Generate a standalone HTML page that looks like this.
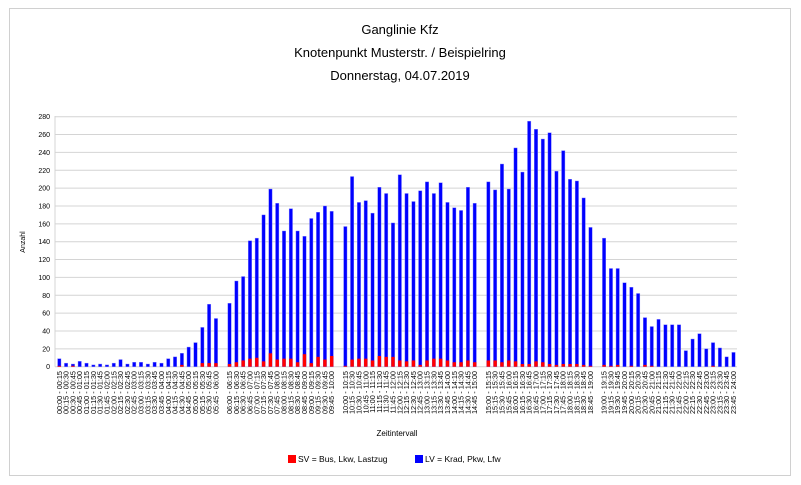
<!DOCTYPE html>
<html><head><meta charset="utf-8"><style>
body{margin:0;background:#fff;}
svg{display:block;font-family:"Liberation Sans",Arial,sans-serif;}
</style></head><body>
<svg id="s" width="801" height="485" xmlns="http://www.w3.org/2000/svg">
<rect x="9.5" y="8.5" width="781" height="467" fill="#fff" stroke="#d0d0d0"/>
<text x="400" y="34" font-size="13" text-anchor="middle">Ganglinie Kfz</text>
<text x="400" y="57" font-size="13" text-anchor="middle">Knotenpunkt Musterstr. / Beispielring</text>
<text x="400" y="80" font-size="13" text-anchor="middle">Donnerstag, 04.07.2019</text>
<text transform="translate(25,242) rotate(-90)" font-size="7" text-anchor="middle">Anzahl</text>
<text x="397" y="436" font-size="8" text-anchor="middle">Zeitintervall</text>
<rect x="288" y="455" width="8" height="8" fill="#ff0000"/>
<text x="298" y="462" font-size="8.5">SV  = Bus, Lkw, Lastzug</text>
<rect x="415" y="455" width="8" height="8" fill="#0000ff"/>
<text x="425" y="462" font-size="8.5">LV  = Krad, Pkw, Lfw</text>
<g id="g"></g>
</svg>
<script>
var tot=[9,4,3,6,4,2,3,2,4,8,3,5,5,3,5,4,9,11,15,22,27,44,70,54,
71,96,101,141,144,170,199,183,152,177,152,146,166,173,180,174,
157,213,184,186,172,201,194,161,215,194,185,197,207,194,206,184,178,175,201,183,
207,198,227,199,245,218,275,266,255,262,219,242,210,208,189,156,
144,110,110,94,89,82,55,45,53,47,47,47,18,31,37,20,27,21,11,16];
var sv=[1,0,1,0,0,0,0,0,0,0,0,0,0,0,0,0,0,0,2,0,0,4,4,4,
3,5,7,9,10,6,15,8,9,9,5,14,4,11,8,12,
1,8,9,9,7,12,11,11,7,6,7,2,7,9,9,7,5,5,7,5,
7,7,5,7,6,3,3,6,5,3,2,3,3,3,2,1,
2,1,2,0,1,0,2,1,0,0,0,0,0,0,0,0,1,0,0,0];
var g=document.getElementById('g'),h='';
var y0=366.7,k=250/280,L=55,R=737;
for(var v=0;v<=280;v+=20){var y=y0-v*k;
h+='<line x1="'+L+'" x2="'+R+'" y1="'+y+'" y2="'+y+'" stroke="#d4d4d4" stroke-width="1"/>';
h+='<text x="50" y="'+(y+2.5)+'" font-size="7" text-anchor="end">'+v+'</text>';}
h+='<line x1="'+L+'" x2="'+L+'" y1="116" y2="'+y0+'" stroke="#d4d4d4"/>';
function p(n){return (n<10?'0':'')+n;}
function t(m){return p(Math.floor(m/60))+':'+p(m%60);}
var gaps={24:1,40:1,60:1,76:1},slot=0;
for(var i=0;i<96;i++){
 if(gaps[i])slot++;
 var x=59.3+slot*6.81;
 var yt=y0-tot[i]*k, ys=y0-sv[i]*k;
 h+='<rect x="'+(x-1.7)+'" y="'+yt+'" width="3.4" height="'+(y0-yt)+'" fill="#0000ff" stroke="#8080ff" stroke-width="0.4"/>';
 if(sv[i]>0)h+='<rect x="'+(x-1.7)+'" y="'+ys+'" width="3.4" height="'+(y0-ys)+'" fill="#ff0000"/>';
 var lab=t(i*15)+' - '+(i==95?'24:00':t(i*15+15));
 h+='<text transform="translate('+(x+2.5)+',371) rotate(-90)" font-size="7.3" text-anchor="end">'+lab+'</text>';
 slot++;
}
g.innerHTML=h;
</script>
</body></html>
